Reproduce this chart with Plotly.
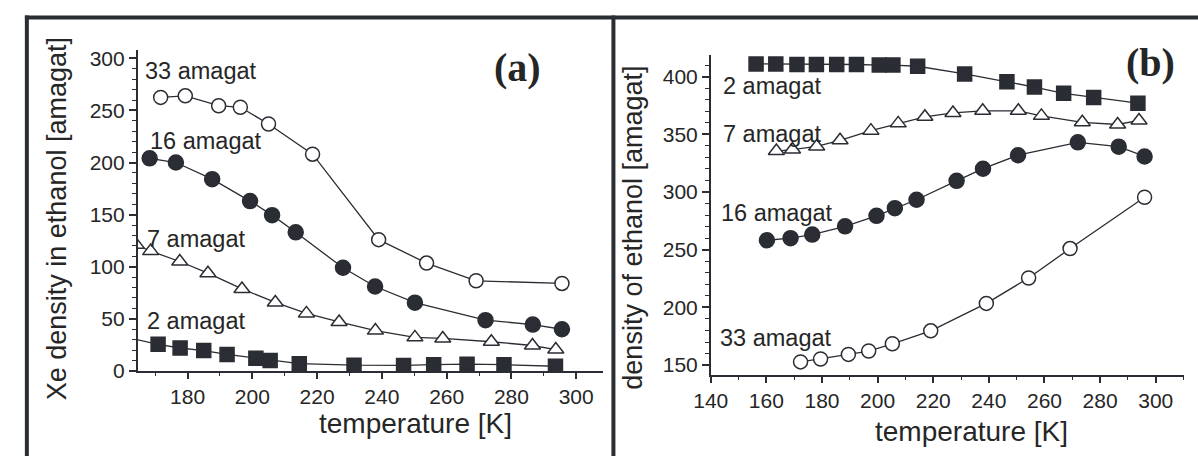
import plotly.graph_objects as go

W, H = 1198, 467

# ---------------- data: panel (a) Xe density in ethanol ----------------
a33_T = [171.7, 179.3, 189.6, 196.3, 205.0, 218.6, 239.0, 253.8, 269.1, 295.6]
a33_v = [262.5, 264, 254.5, 253, 237, 208, 126, 103.5, 86.5, 84]
a16_T = [168.3, 176.4, 187.6, 199.3, 206.1, 213.4, 228.0, 237.9, 250.2, 272.0, 286.6, 295.6]
a16_v = [204, 200, 184, 163, 149.5, 133, 99, 81, 65.5, 48.7, 44.5, 40]
a7_T = [164.2, 168.6, 177.6, 186.3, 196.8, 207.1, 216.7, 226.8, 238.0, 250.2, 258.8, 273.8, 286.5, 293.7]
a7_v = [121, 115, 105, 93.8, 78.7, 65.7, 55.2, 47, 38.7, 32.2, 31.2, 28, 24.4, 20.5]
a2_T = [160.0, 170.9, 177.7, 185.0, 192.2, 201.1, 205.5, 214.5, 231.4, 246.7, 256.0, 266.3, 277.7, 293.6]
a2_v = [33, 25.5, 22, 19.5, 15.8, 12.2, 10, 7, 5.5, 5.3, 6.0, 6.5, 6.0, 4.5]

# ---------------- data: panel (b) density of ethanol ----------------
b2_T = [156.3, 163.4, 171.0, 178.0, 185.3, 192.4, 200.6, 205.5, 214.4, 231.3, 246.5, 256.4, 266.9, 277.7, 293.6]
b2_v = [411, 411, 410.5, 410.5, 410.5, 410.5, 410, 410, 409, 402.3, 395.5, 391, 385.5, 382, 377]
b7_T = [163.6, 169.4, 178.1, 186.5, 197.6, 207.4, 217.0, 227.1, 237.8, 250.6, 258.9, 273.6, 286.3, 294.0]
b7_v = [335.5, 336.8, 339.5, 344.8, 353.2, 359.5, 365.2, 368.5, 370.4, 370.4, 366, 360.4, 358.5, 362]
b16_T = [160.2, 168.7, 176.5, 188.3, 199.6, 206.2, 214.0, 228.4, 237.9, 250.5, 272.0, 286.7, 296.0]
b16_v = [258.2, 260, 263.1, 270.3, 279.4, 286, 293.3, 309.7, 320.2, 331.9, 343.1, 339.3, 330.8]
b33_T = [172.3, 179.5, 189.5, 196.8, 205.3, 219.1, 239.1, 254.3, 269.2, 296.0]
b33_v = [152.8, 155.3, 159.3, 162.2, 168.5, 179.7, 203.5, 225.5, 251, 295.5]

DARK = "#2a2d33"
TXT = "#262626"
SANS = "Liberation Sans, Arial, sans-serif"
SERIF = "Liberation Serif, Times New Roman, serif"


def px(x):
    return x / W


def py(y):
    return 1 - y / H


fig = go.Figure()


def add(T, v, symbol, filled, size, xa, ya):
    fig.add_trace(go.Scatter(
        x=T, y=v, mode="lines+markers", xaxis=xa, yaxis=ya,
        line=dict(color=DARK, width=1.3),
        marker=dict(symbol=symbol, size=size,
                    color=DARK if filled else "white",
                    line=dict(color=DARK, width=1.5)),
        showlegend=False, cliponaxis=True))


add(a33_T, a33_v, "circle", False, 14, "x", "y")
add(a16_T, a16_v, "circle", True, 15, "x", "y")
add(a7_T, a7_v, "triangle-up", False, 14, "x", "y")
add(a2_T, a2_v, "square", True, 14, "x", "y")

add(b2_T, b2_v, "square", True, 14, "x2", "y2")
add(b7_T, b7_v, "triangle-up", False, 14, "x2", "y2")
add(b16_T, b16_v, "circle", True, 15, "x2", "y2")
add(b33_T, b33_v, "circle", False, 14, "x2", "y2")

tickfont = dict(family=SANS, size=21, color=TXT)


def axis(domain, rng, dtick, minor_dtick, anchor, ticklen=6):
    return dict(domain=domain, range=rng, anchor=anchor, dtick=dtick, tick0=0,
                showgrid=False, zeroline=False, showline=True, linecolor=DARK,
                linewidth=1.5, ticks="outside", ticklen=ticklen, tickwidth=1.5,
                tickcolor=DARK, tickfont=tickfont,
                minor=dict(dtick=minor_dtick, tick0=0, ticks="outside", ticklen=3.5,
                           tickwidth=1.2, tickcolor=DARK, showgrid=False))


fig.update_layout(
    width=W, height=H, margin=dict(l=0, r=0, t=0, b=0),
    paper_bgcolor="white", plot_bgcolor="white",
    xaxis=axis([px(121.5), px(594)], [164.6, 308.3], 20, 10, "y"),
    yaxis=axis([py(379.3), py(48)], [0, 308.4], 50, 10, "x", 7),
    xaxis2=axis([px(703.3), px(1183.3)], [140, 310], 20, 10, "y2"),
    yaxis2=axis([py(383.3), py(53.3)], [141.6, 419], 50, 10, "x2", 7),
)

ann = []


def label(text, x, y, size=23.5, xanchor="left", family=SANS, bold=False, angle=0):
    ann.append(dict(text=f"<b>{text}</b>" if bold else text, x=px(x), y=py(y),
                    xref="paper", yref="paper", xanchor=xanchor, yanchor="middle",
                    showarrow=False, textangle=angle,
                    font=dict(family=family, size=size, color=TXT)))


# series labels, panel (a)
label("33 amagat", 127, 70)
label("16 amagat", 132, 142)
label("7 amagat", 129, 243)
label("2 amagat", 129, 328)
# series labels, panel (b)
label("2 amagat", 714, 86)
label("7 amagat", 714, 135)
label("16 amagat", 712, 216)
label("33 amagat", 711, 345)
# panel letters
label("(a)", 507, 66, size=40, xanchor="center", family=SERIF, bold=True)
label("(b)", 1150, 61, size=40, xanchor="center", family=SERIF, bold=True)
# axis titles
label("temperature [K]", 404, 434, size=28, xanchor="center")
label("temperature [K]", 968, 442, size=28, xanchor="center")
label("Xe density in ethanol [amagat]", 39.5, 222, size=27, xanchor="center", angle=-90)
label("density of ethanol [amagat]", 624, 232, size=27, xanchor="center", angle=-90)

fig.update_layout(annotations=ann)

# frame lines (top, left, divider)
shapes = [
    dict(type="line", xref="paper", yref="paper", x0=px(7), x1=1, y0=py(15), y1=py(15),
         line=dict(color=DARK, width=4)),
    dict(type="line", xref="paper", yref="paper", x0=px(9), x1=px(9), y0=py(13), y1=0,
         line=dict(color=DARK, width=4)),
    dict(type="line", xref="paper", yref="paper", x0=px(604.5), x1=px(604.5), y0=py(13), y1=0,
         line=dict(color=DARK, width=4)),
]
fig.update_layout(shapes=shapes)

fig.write_html("out.html",
               post_script="document.body.style.margin='0';document.body.style.padding='0';")
